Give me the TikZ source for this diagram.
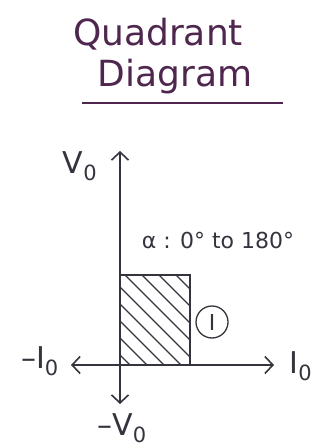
\documentclass[tikz,border=0pt]{standalone}
\usepackage{fontspec}
\setmainfont{DejaVu Sans}
\usepackage{tikz}
\usetikzlibrary{positioning, calc, arrows.meta}
\definecolor{inkpurple}{RGB}{78, 38, 78}
\definecolor{inkgray}{RGB}{52, 52, 62}

\begin{document}
\begin{tikzpicture}[x=1pt, y=-1pt, >={Straight Barb[length=8pt, width=17pt]},
    heading/.style={text=inkpurple, font=\fontsize{36}{40}\selectfont, inner sep=0pt},
    axis/.style={draw=inkgray, line width=1.6pt, <->},
    edge/.style={draw=inkgray, line width=1.5pt},
    hatch/.style={draw=inkgray, line width=1.1pt},
    lbl/.style={text=inkgray, font=\fontsize{30}{32}\selectfont, inner sep=1pt}]

    \useasboundingbox (0,0) rectangle (332,446);

    % Title
    \node[heading] (ttl1) at (158,34) {Quadrant};
    \node[heading] (ttl2) at (175,77) {Diagram};
    \coordinate (ulL) at (82,103);
    \coordinate (ulR) at (283,103);
    \draw[inkpurple, line width=2.2pt] (ulL) -- (ulR);

    % Axes
    \coordinate (orig) at (120,365);
    \coordinate (vtop) at (120,151);
    \coordinate (vbot) at (120,404);
    \coordinate (hleft) at (71,365);
    \coordinate (hright) at (274,365);
    \draw[axis] (vbot) -- (vtop);
    \draw[axis] (hleft) -- (hright);

    % Operating region
    \coordinate (qtl) at (120,275);
    \coordinate (qbr) at (190,365);
    \begin{scope}
        \clip (qtl) rectangle (qbr);
        \foreach \s in {23,40,...,190}
            \draw[hatch] (\s,275) -- ++(90,90);
    \end{scope}
    \draw[edge] (orig) |- (qtl -| qbr) -- (qbr);

    % Labels
    \node[lbl] (vo) at (80,166) {V\textsubscript{0}};
    \node[lbl] (mvo) at (122,428) {–V\textsubscript{0}};
    \node[lbl] (io) at (301,366) {I\textsubscript{0}};
    \node[lbl] (mio) at (40,361) {–I\textsubscript{0}};
    \node[lbl, font=\fontsize{22}{24}\selectfont] (alpha) at (218,240) {α : 0° to 180°};
    \node[lbl, draw=inkgray, circle, line width=1.3pt, minimum size=32pt, inner sep=0pt,
          font=\fontsize{22}{24}\selectfont] (quadI) at (212,322) {I};
\end{tikzpicture}
\end{document}
